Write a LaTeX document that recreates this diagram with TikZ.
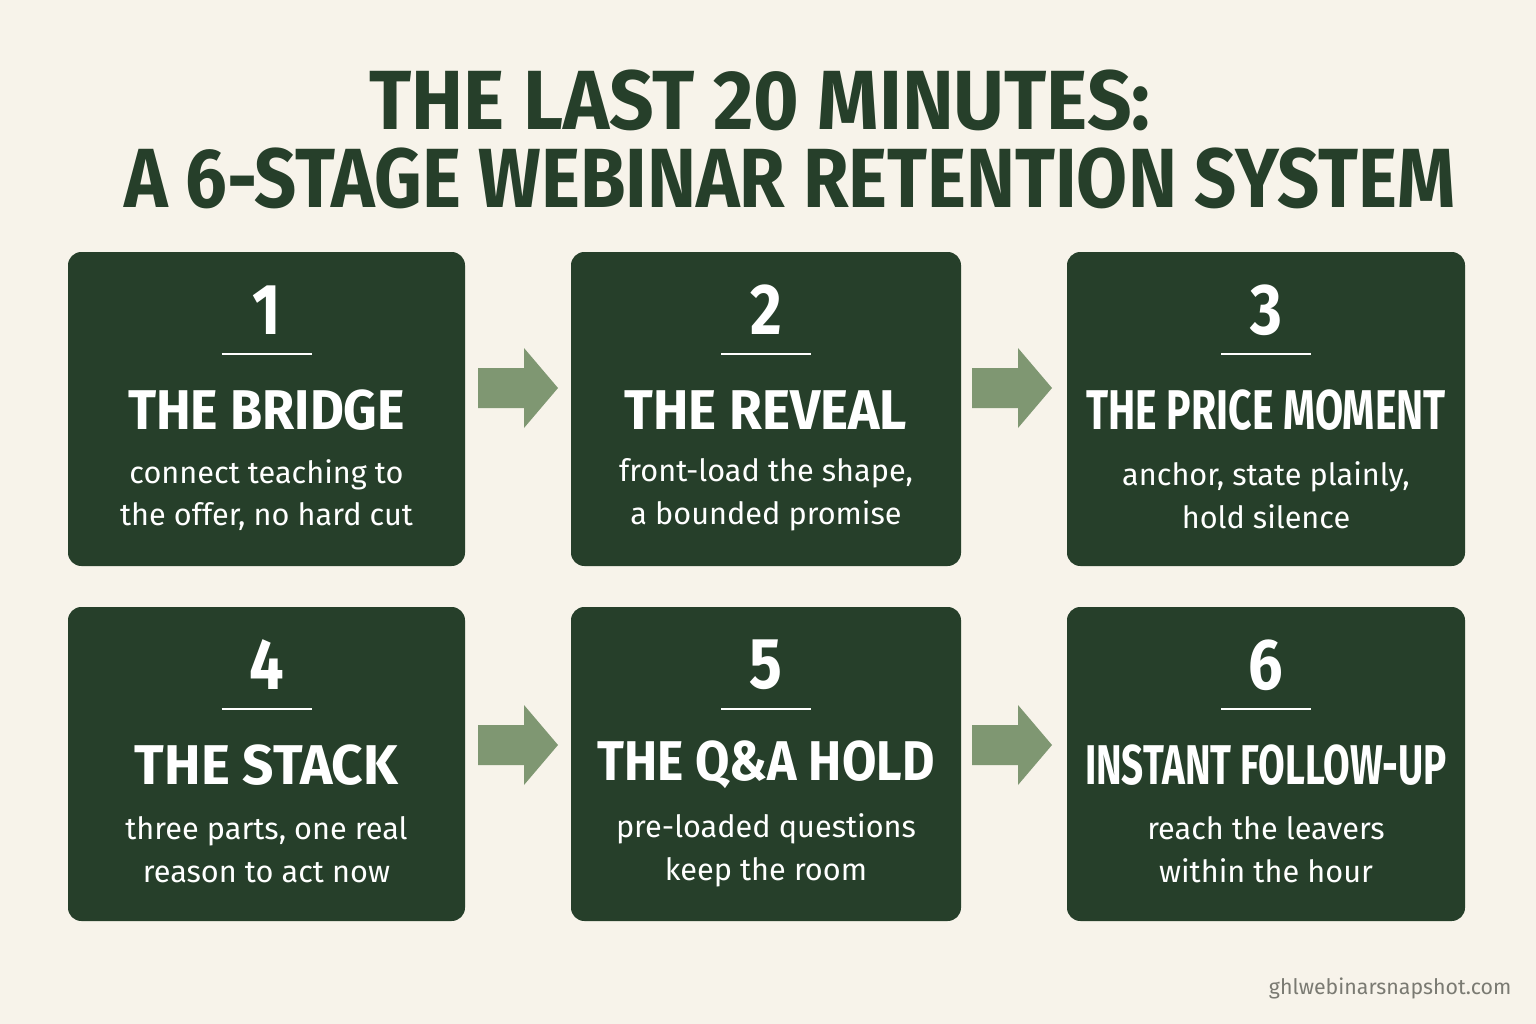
\documentclass[tikz,border=0pt]{standalone}
\usepackage{fontspec}
\setmainfont{Fira Sans}
\definecolor{bg}{HTML}{F7F3EA}
\definecolor{dk}{HTML}{263F2A}
\definecolor{ar}{HTML}{7F9772}
\definecolor{gr}{HTML}{7A7A72}
\begin{document}
\begin{tikzpicture}[x=0.75pt,y=-0.75pt,
 card/.style={fill=dk,rounded corners=10pt},
 num/.style={text=white,font=\fontsize{54}{54}\selectfont\bfseries},
 ttl/.style={text=white,font=\fontsize{42}{42}\selectfont\bfseries},
 dsc/.style={text=white,font=\fontsize{23}{32}\selectfont,align=center},
 arr/.style={fill=ar},
 head/.style={text=dk,font=\fontsize{63}{63}\selectfont\bfseries}]
\useasboundingbox[fill=bg] (0,0) rectangle (1536,1024);
\node[head] (h1) at (760,100) {\scalebox{0.93}[1]{THE LAST 20 MINUTES:}};
\node[head] (h2) at (790,178) {\scalebox{0.88}[1]{A 6-STAGE WEBINAR RETENTION SYSTEM}};
\newcommand\stage[8]{%
 \fill[card] (#1,#2) rectangle (#3,#2+314);
 \node[num] (n#4) at ({(#1+#3)/2},#2+58) {\scalebox{0.85}[1]{#4}};
 \draw[white,line width=1.2pt] ({(#1+#3)/2-45},#2+102) -- ({(#1+#3)/2+45},#2+102);
 \node[ttl] (t#4) at ({(#1+#3)/2},#2+158) {\scalebox{#8}[1]{#5}};
 \node[dsc] (d#4) at ({(#1+#3)/2},#2+243) {#6\\#7};}
\newcommand\blockarrow[2]{%
 \fill[arr] (#1,#2-20) -- (#1+46,#2-20) -- (#1+46,#2-40) -- (#1+80,#2) -- (#1+46,#2+40) -- (#1+46,#2+20) -- (#1,#2+20) -- cycle;}
\stage{68}{252}{465}{1}{THE BRIDGE}{connect teaching to}{the offer, no hard cut}{0.93}
\stage{571}{252}{961}{2}{THE REVEAL}{front-load the shape,}{a bounded promise}{0.95}
\stage{1067}{252}{1465}{3}{THE PRICE MOMENT}{anchor, state plainly,}{hold silence}{0.73}
\stage{68}{607}{465}{4}{THE STACK}{three parts, one real}{reason to act now}{0.98}
\stage{571}{607}{961}{5}{THE Q\&A HOLD}{pre-loaded questions}{keep the room}{0.89}
\stage{1067}{607}{1465}{6}{INSTANT FOLLOW-UP}{reach the leavers}{within the hour}{0.69}
\blockarrow{478}{388}
\blockarrow{972}{388}
\blockarrow{478}{745}
\blockarrow{972}{745}
\node[text=gr,font=\fontsize{16}{16}\selectfont,anchor=east] (w) at (1516,988) {ghlwebinarsnapshot.com};
\end{tikzpicture}
\end{document}
